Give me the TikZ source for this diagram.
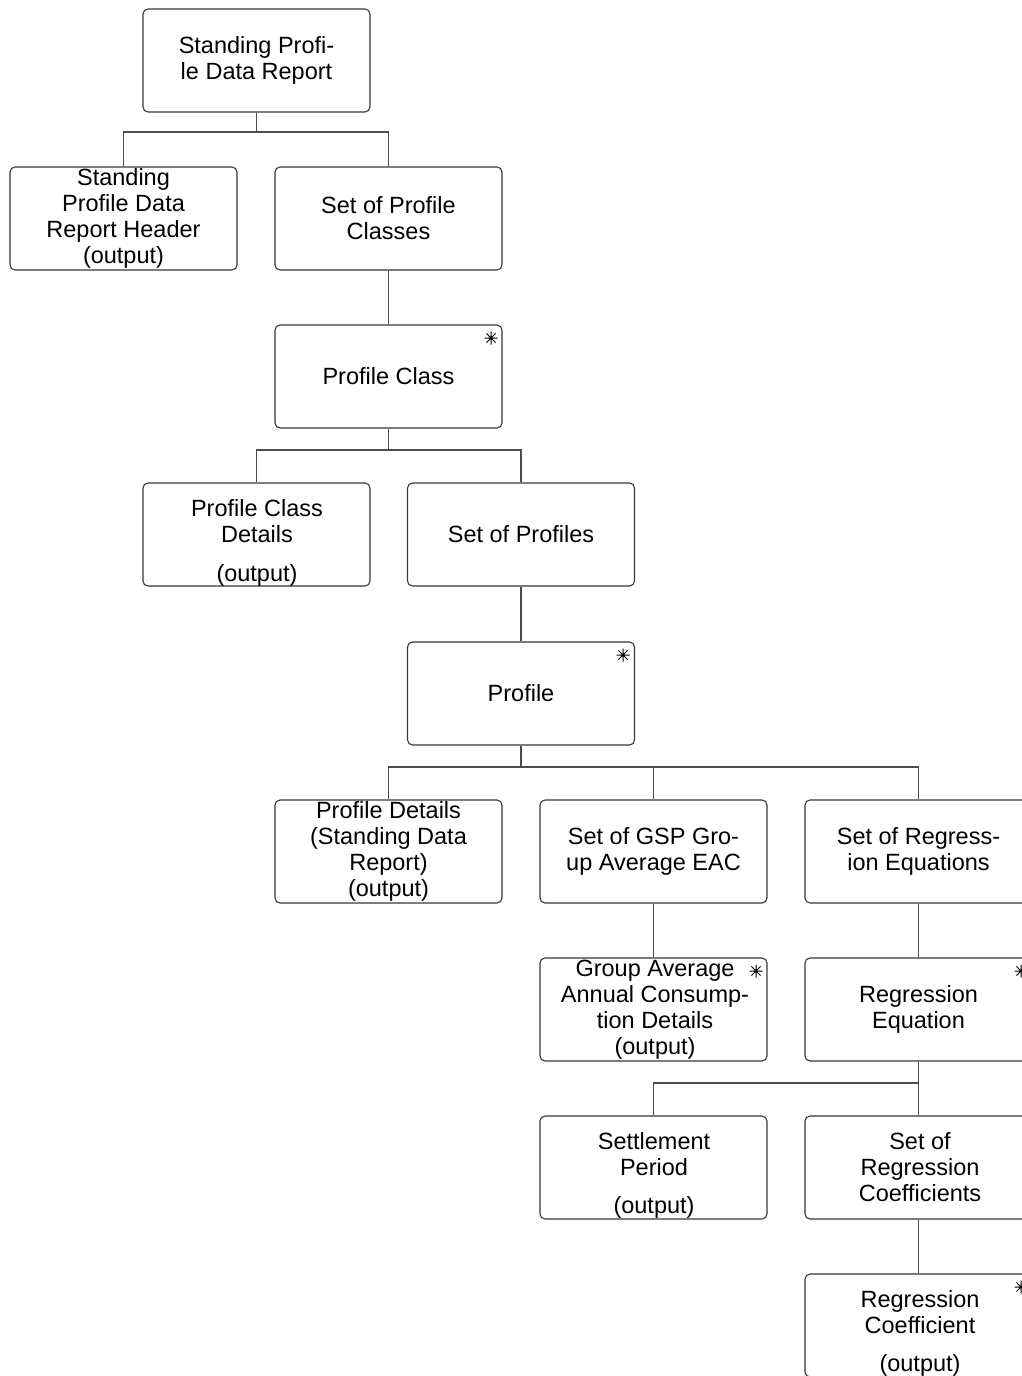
\documentclass[tikz,border=0pt]{standalone}
\usepackage{fontspec}
\setmainfont{Liberation Sans}
\begin{document}
\begin{tikzpicture}[x=1pt,y=-1pt,
  box/.style={draw=black!78,line width=1.1pt,rounded corners=5pt,minimum width=227pt,minimum height=103pt,inner sep=0pt,align=center,
    font=\fontsize{23.5pt}{26pt}\selectfont},
  txt/.style={font=\fontsize{23.5pt}{26pt}\selectfont,align=center,inner sep=0pt},
  conn/.style={draw=black!70,line width=1.1pt},
  ast/.pic={\draw[black,line width=1pt] (-6.5,0)--(6.5,0) (0,-6.5)--(0,6.5) (-4.6,-4.6)--(4.6,4.6) (-4.6,4.6)--(4.6,-4.6);}
]
\useasboundingbox (0,0) rectangle (1022,1376);
\begin{scope}
\clip (0,0) rectangle (1022,1376);
\node[box] (top) at (256.5,60.5) {Standing Profi-\\le Data Report};
\node[box] (hdr) at (123.5,218.5) {Standing\\Profile Data\\Report Header\\(output)};
\node[box] (spc) at (388.5,218.5) {Set of Profile\\Classes};
\node[box] (pc) at (388.5,376.5) {Profile Class};
\node[box] (pcd) at (256.5,534.5) {};
\node[txt] (pcdt) at (257,521) {Profile Class\\Details};
\node[txt] (pcdo) at (257,575) {(output)};
\node[box] (sop) at (521,534.5) {Set of Profiles};
\node[box] (prof) at (521,693.5) {Profile};
\node[box] (pd) at (388.5,851.5) {Profile Details\\(Standing Data\\Report)\\(output)};
\node[box] (gsp) at (653.5,851.5) {Set of GSP Gro-\\up Average EAC};
\node[box] (sre) at (918.5,851.5) {Set of Regress-\\ion Equations};
\node[box] (gaa) at (653.5,1009.5) {};
\node[txt] (gaat) at (655,1009.5) {Group Average\\Annual Consump-\\tion Details\\(output)};
\node[box] (re) at (918.5,1009.5) {Regression\\Equation};
\node[box] (sp) at (653.5,1167.5) {};
\node[txt] (spt) at (654,1154) {Settlement\\Period};
\node[txt] (spo) at (654,1207) {(output)};
\node[box] (src) at (918.5,1167.5) {};
\node[txt] (srct) at (920,1167.5) {Set of\\Regression\\Coefficients};
\node[box] (rc) at (918.5,1325.5) {};
\node[txt] (rct) at (920,1312) {Regression\\Coefficient};
\node[txt] (rco) at (920,1365) {(output)};
% asterisks
\pic at (491,338) {ast};
\pic at (623,655) {ast};
\pic at (756,971) {ast};
\pic at (1021,971) {ast};
\pic at (1021,1287) {ast};
% connectors
\coordinate (b1) at (256.5,132);
\coordinate (b2) at (388.5,450);
\coordinate (b3) at (521,767);
\coordinate (b4) at (918.5,1083);
\draw[conn] (top.south) -- (b1) -| (hdr.north);
\draw[conn] (b1) -| (spc.north);
\draw[conn] (spc.south) -- (pc.north);
\draw[conn] (pc.south) -- (b2) -| (pcd.north);
\draw[conn] (b2) -| (sop.north);
\draw[conn] (sop.south) -- (prof.north);
\draw[conn] (prof.south) -- (b3) -| (pd.north);
\draw[conn] (b3) -| (gsp.north);
\draw[conn] (b3) -| (sre.north);
\draw[conn] (gsp.south) -- (gaa.north);
\draw[conn] (sre.south) -- (re.north);
\draw[conn] (re.south) -- (b4) -| (sp.north);
\draw[conn] (b4) -- (src.north);
\draw[conn] (src.south) -- (rc.north);
\end{scope}
\end{tikzpicture}
\end{document}
